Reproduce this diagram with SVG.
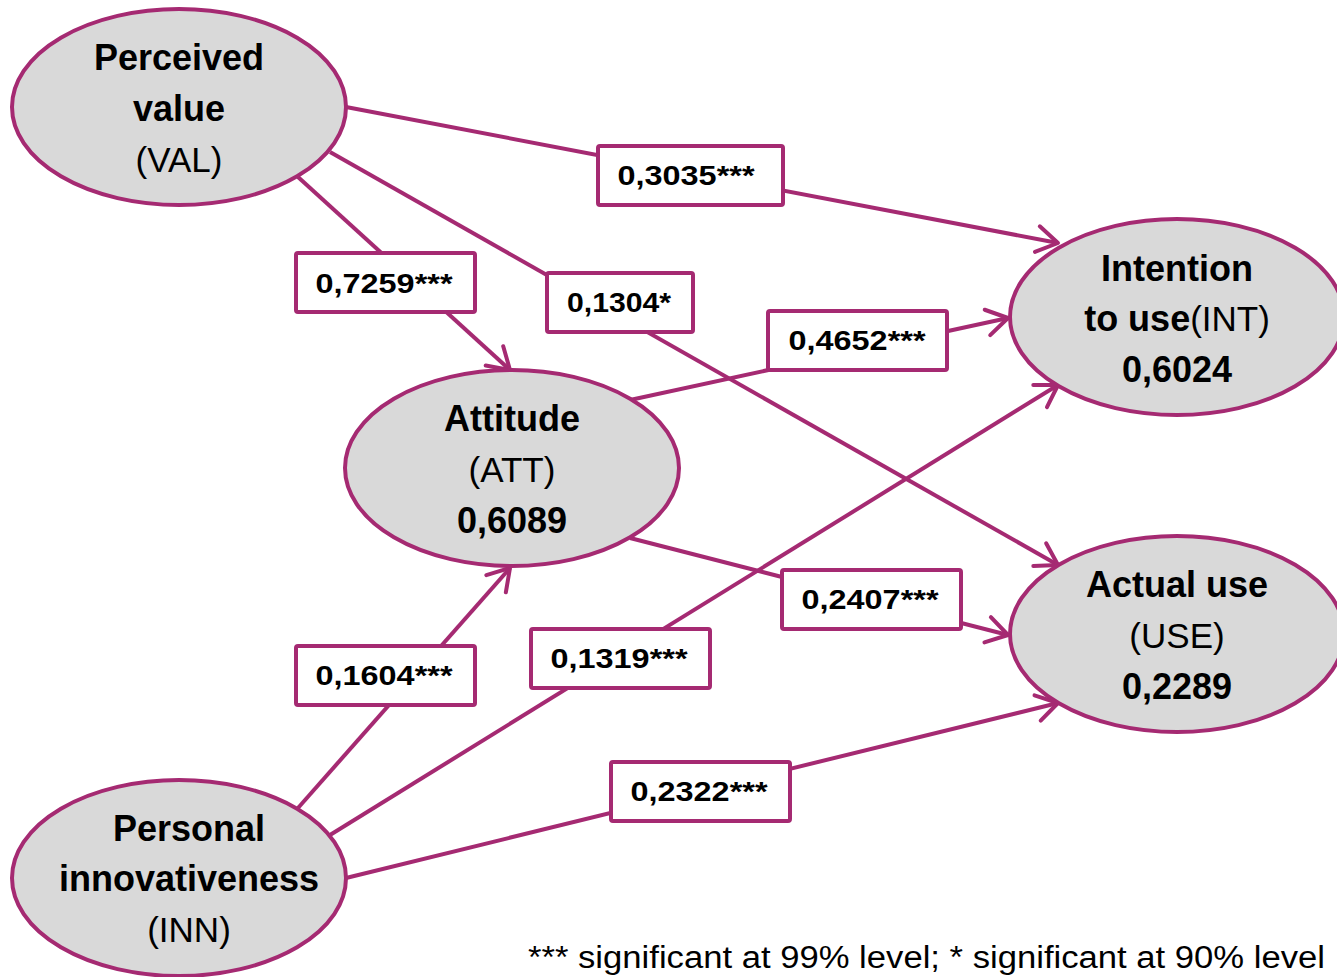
<svg xmlns="http://www.w3.org/2000/svg" width="1337" height="977" viewBox="0 0 1337 977">
<defs>
<style>
.node{fill:#d9d9d9;stroke:#a52a72;stroke-width:4}
.edge{stroke:#a52a72;stroke-width:4;fill:none}
.lbl{fill:#fff;stroke:#a52a72;stroke-width:4}
text{font-family:"Liberation Sans",Arial,sans-serif;fill:#000;text-anchor:middle}
.b{font-weight:bold;font-size:36px}
.n{font-size:35px}
.l{font-weight:bold;font-size:27px}
.f{font-size:31px;text-anchor:start}
</style>
<marker id="ah" markerUnits="userSpaceOnUse" orient="auto" markerWidth="40" markerHeight="40" refX="0" refY="0" viewBox="-30 -20 40 40" overflow="visible">
<path d="M-21,-13 L0,0 L-21,13" fill="none" stroke="#a52a72" stroke-width="4" stroke-linecap="round" stroke-linejoin="round"/>
</marker>
</defs>
<g id="connectors">
<line class="edge" x1="346" y1="107" x2="1058" y2="243" marker-end="url(#ah)"/>
<line class="edge" x1="298" y1="177" x2="510" y2="370" marker-end="url(#ah)"/>
<line class="edge" x1="330" y1="152" x2="1058" y2="565" marker-end="url(#ah)"/>
<line class="edge" x1="630" y1="400" x2="1008" y2="318" marker-end="url(#ah)"/>
<line class="edge" x1="630" y1="538" x2="1008" y2="635" marker-end="url(#ah)"/>
<line class="edge" x1="298" y1="808" x2="510" y2="568" marker-end="url(#ah)"/>
<line class="edge" x1="330" y1="835" x2="1058" y2="385" marker-end="url(#ah)"/>
<line class="edge" x1="346" y1="878" x2="1058" y2="703" marker-end="url(#ah)"/>
<g id="labels">
<rect class="lbl" x="598" y="146" width="185" height="59" rx="2"/>
<text class="l" x="686" y="185" textLength="137" lengthAdjust="spacingAndGlyphs">0,3035***</text>
<rect class="lbl" x="296" y="253" width="179" height="59" rx="2"/>
<text class="l" x="384" y="293" textLength="137" lengthAdjust="spacingAndGlyphs">0,7259***</text>
<rect class="lbl" x="547" y="273" width="146" height="59" rx="2"/>
<text class="l" x="619" y="312" textLength="104" lengthAdjust="spacingAndGlyphs">0,1304*</text>
<rect class="lbl" x="768" y="311" width="179" height="59" rx="2"/>
<text class="l" x="857" y="350" textLength="137" lengthAdjust="spacingAndGlyphs">0,4652***</text>
<rect class="lbl" x="782" y="570" width="179" height="59" rx="2"/>
<text class="l" x="870" y="609" textLength="137" lengthAdjust="spacingAndGlyphs">0,2407***</text>
<rect class="lbl" x="296" y="646" width="179" height="59" rx="2"/>
<text class="l" x="384" y="685" textLength="137" lengthAdjust="spacingAndGlyphs">0,1604***</text>
<rect class="lbl" x="531" y="629" width="179" height="59" rx="2"/>
<text class="l" x="619" y="668" textLength="137" lengthAdjust="spacingAndGlyphs">0,1319***</text>
<rect class="lbl" x="611" y="762" width="179" height="59" rx="2"/>
<text class="l" x="699" y="801" textLength="137" lengthAdjust="spacingAndGlyphs">0,2322***</text>
</g>
</g>
<g id="VAL">
<ellipse class="node" cx="179" cy="107" rx="167" ry="98"/>
<text class="b" x="179" y="70">Perceived</text>
<text class="b" x="179" y="121">value</text>
<text class="n" x="179" y="172">(VAL)</text>
</g>
<g id="ATT">
<ellipse class="node" cx="512" cy="468" rx="167" ry="98"/>
<text class="b" x="512" y="431">Attitude</text>
<text class="n" x="512" y="482">(ATT)</text>
<text class="b" x="512" y="533">0,6089</text>
</g>
<g id="INT">
<ellipse class="node" cx="1177" cy="317" rx="167" ry="98"/>
<text class="b" x="1177" y="281">Intention</text>
<text x="1177" y="331"><tspan class="b">to use</tspan><tspan class="n">(INT)</tspan></text>
<text class="b" x="1177" y="382">0,6024</text>
</g>
<g id="USE">
<ellipse class="node" cx="1177" cy="634" rx="167" ry="98"/>
<text class="b" x="1177" y="597">Actual use</text>
<text class="n" x="1177" y="648">(USE)</text>
<text class="b" x="1177" y="699">0,2289</text>
</g>
<g id="INN">
<ellipse class="node" cx="179" cy="878" rx="167" ry="98"/>
<text class="b" x="189" y="841">Personal</text>
<text class="b" x="189" y="891">innovativeness</text>
<text class="n" x="189" y="942">(INN)</text>
</g>
<text class="f" x="528" y="968" textLength="797" lengthAdjust="spacingAndGlyphs">*** significant at 99% level; * significant at 90% level</text>
</svg>
